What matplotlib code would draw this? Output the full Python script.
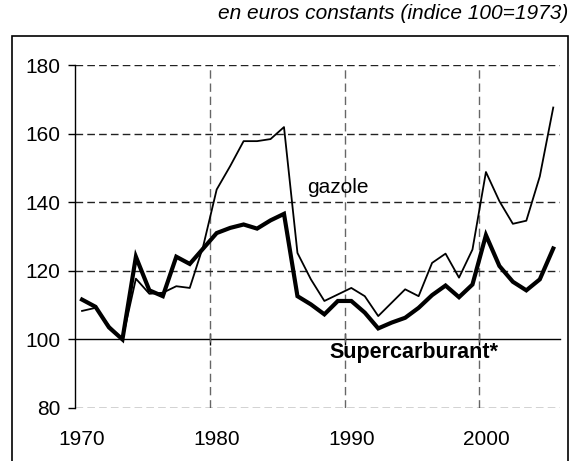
import matplotlib
matplotlib.use("Agg")
import matplotlib.pyplot as plt
from matplotlib.patches import Rectangle

plt.rcParams["font.family"] = ["Liberation Sans", "DejaVu Sans"]
plt.rcParams["font.size"] = 15

# data (indice 100 = 1973)
years = list(range(1970, 2006))
gazole = [108.3, 109.2, 104.0, 100.0, 117.7, 113.3, 113.6, 115.5, 115.0, 127.2,
          143.7, 150.5, 157.8, 157.8, 158.4, 161.9, 125.2, 117.5, 111.2, 113.1,
          115.0, 112.6, 106.8, 110.7, 114.6, 112.6, 122.3, 125.0, 118.0, 126.2,
          148.8, 140.3, 133.7, 134.6, 147.5, 167.6]
supercarburant = [111.6, 109.5, 103.5, 100.0, 124.1, 114.3, 112.6, 124.1, 122.0, 126.5,
                  131.0, 132.5, 133.5, 132.3, 134.7, 136.6, 112.6, 110.2, 107.3, 111.2,
                  111.2, 107.8, 103.2, 104.9, 106.3, 109.2, 112.9, 115.7, 112.3, 116.0,
                  130.4, 121.4, 116.8, 114.3, 117.5, 126.5]
year_labels = [1970, 1980, 1990, 2000]
y_ticks = [80, 100, 120, 140, 160, 180]

fig = plt.figure(figsize=(5.71, 4.61), dpi=100)
ax = fig.add_axes([0.1319, 0.1150, 0.8488, 0.7440])

# category style axis: grid lines sit between categories
boundaries = [y - 0.5 for y in year_labels]
ax.set_xlim(years[0] - 0.5, years[-1] + 0.5)
ax.set_ylim(80, 180)

for b in boundaries[1:]:
    ax.axvline(b, color="#666666", lw=1.0, ls=(0, (6, 3.5)), zorder=1)
for v in y_ticks:
    if v != 100:
        ax.axhline(v, color="#222222", lw=1.0, ls=(0, (5.5, 3)), zorder=1)

ax.plot(years, gazole, color="black", lw=1.3, zorder=3)
ax.plot(years, supercarburant, color="black", lw=3.0, zorder=4, solid_joinstyle="miter")

for side in ["top", "right", "bottom"]:
    ax.spines[side].set_visible(False)
ax.spines["left"].set_linewidth(1.0)
ax.spines["left"].set_position(("data", years[0] - 0.5))

ax.set_yticks(y_ticks)
ax.tick_params(axis="y", length=5, width=1.0, pad=6, labelsize=15)

ax.set_xticks(year_labels)
ax.set_xticklabels([str(y) for y in year_labels])
ax.tick_params(axis="x", length=0, pad=16, labelsize=15)

# solid axis line at 100 with marks at the category boundaries
sec = ax.secondary_xaxis(0.2)
sec.set_xticks(boundaries[1:])
sec.set_xticklabels([])
sec.tick_params(direction="inout", length=8, width=1.0)
sec.spines["bottom"].set_linewidth(1.0)

ax.text(1986.7, 144.2, "gazole", ha="left", va="center", fontsize=15)
ax.text(1988.4, 96.1, "Supercarburant*", ha="left", va="center",
        fontsize=15.5, fontweight="bold")

fig.text(568 / 571, 1 - 4 / 461, "en euros constants (indice 100=1973)",
         ha="right", va="top", fontsize=15, style="italic")

fig.patches.append(Rectangle((12 / 571, -0.05), 556 / 571, 1.05 - 36.5 / 461,
                             transform=fig.transFigure, fill=False,
                             edgecolor="black", lw=1.2, clip_on=False))

fig.savefig("out.png", dpi=100)
